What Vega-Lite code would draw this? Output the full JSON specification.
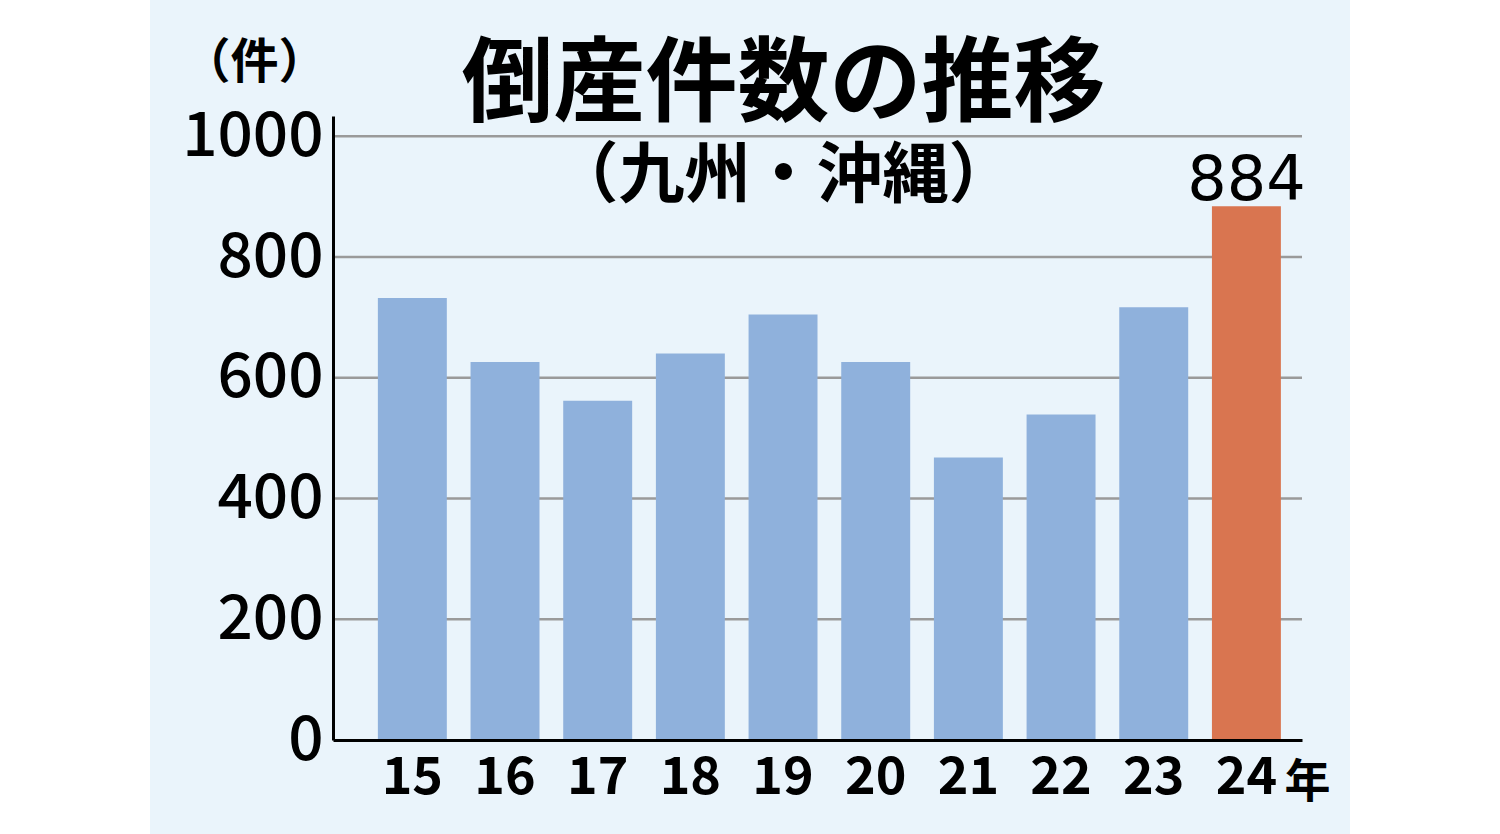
{
  "$schema": "https://vega.github.io/schema/vega-lite/v6.json",
  "width": 969,
  "height": 624,
  "autosize": {"type": "none"},
  "padding": {"left": 333, "top": 116, "right": 198, "bottom": 94},
  "background": "#ffffff",
  "config": {
    "view": {"stroke": null},
    "font": "Noto Sans CJK JP"
  },
  "title": {
    "text": "倒産件数の推移",
    "subtitle": "（九州・沖縄）",
    "frame": "group",
    "anchor": "middle",
    "dx": -34,
    "offset": -220,
    "font": "Noto Sans CJK JP",
    "fontSize": 92,
    "fontWeight": "bold",
    "color": "#000000",
    "subtitleFont": "Noto Sans CJK JP",
    "subtitleFontSize": 66,
    "subtitleFontWeight": "bold",
    "subtitleColor": "#000000",
    "subtitlePadding": 12
  },
  "data": {
    "values": [
      {"year": "15", "count": 732},
      {"year": "16", "count": 626},
      {"year": "17", "count": 562},
      {"year": "18", "count": 640},
      {"year": "19", "count": 705},
      {"year": "20", "count": 626},
      {"year": "21", "count": 468},
      {"year": "22", "count": 539},
      {"year": "23", "count": 717},
      {"year": "24", "count": 884}
    ]
  },
  "layer": [
    {
      "data": {"values": [{"part": "panel"}]},
      "mark": {"type": "rect", "color": "#EAF4FB"},
      "encoding": {
        "x": {"datum": "15", "type": "nominal", "bandPosition": -3.305},
        "x2": {"datum": "24", "bandPosition": 2.003},
        "y": {"datum": -170, "type": "quantitative"},
        "y2": {"datum": 1240}
      }
    },
    {
      "data": {"values": [{"v": 200}, {"v": 400}, {"v": 600}, {"v": 800}, {"v": 1000}]},
      "mark": {"type": "rule", "color": "#9a9a9a", "strokeWidth": 2.5},
      "encoding": {
        "y": {"field": "v", "type": "quantitative"}
      }
    },
    {
      "mark": {"type": "bar"},
      "encoding": {
        "x": {
          "field": "year",
          "type": "nominal",
          "sort": null,
          "scale": {
            "domain": ["15", "16", "17", "18", "19", "20", "21", "22", "23", "24"],
            "paddingInner": 0.256,
            "paddingOuter": 0.356,
            "align": 0.68
          },
          "axis": {
            "zindex": 1,
            "bandPosition": 0.5,
            "title": "年",
            "titleX": 974,
            "titleY": 42,
            "titleAlign": "center",
            "titleBaseline": "middle",
            "titleFontSize": 46,
            "titleFontWeight": "bold",
            "titleColor": "#000000",
            "labelAngle": 0,
            "labelAlign": "center",
            "labelFontSize": 52,
            "labelFontWeight": "bold",
            "labelColor": "#000000",
            "labelPadding": 37,
            "ticks": false,
            "domainColor": "#000000",
            "domainWidth": 3,
            "grid": false
          }
        },
        "y": {
          "field": "count",
          "type": "quantitative",
          "scale": {"domain": [0, 1033.6], "nice": false},
          "axis": {
            "zindex": 1,
            "values": [0, 200, 400, 600, 800, 1000],
            "format": "d",
            "title": "（件）",
            "titleAngle": 0,
            "titleX": -79,
            "titleY": -53,
            "titleAlign": "center",
            "titleBaseline": "middle",
            "titleFontSize": 48,
            "titleFontWeight": "bold",
            "titleColor": "#000000",
            "labelFontSize": 62,
            "labelFontWeight": 500,
            "labelColor": "#000000",
            "labelPadding": 10,
            "ticks": false,
            "domainColor": "#000000",
            "domainWidth": 3,
            "grid": false
          }
        },
        "y2": {"datum": 0},
        "color": {
          "condition": {"test": "datum.year == '24'", "value": "#D97550"},
          "value": "#8FB1DC"
        }
      }
    },
    {
      "transform": [{"filter": "datum.year == '24'"}],
      "mark": {
        "type": "text",
        "font": "DejaVu Sans",
        "fontSize": 62,
        "baseline": "alphabetic",
        "align": "center",
        "dy": -6,
        "color": "#000000"
      },
      "encoding": {
        "x": {"field": "year", "type": "nominal", "sort": null},
        "y": {"field": "count", "type": "quantitative"},
        "text": {"field": "count", "type": "quantitative"}
      }
    }
  ]
}
